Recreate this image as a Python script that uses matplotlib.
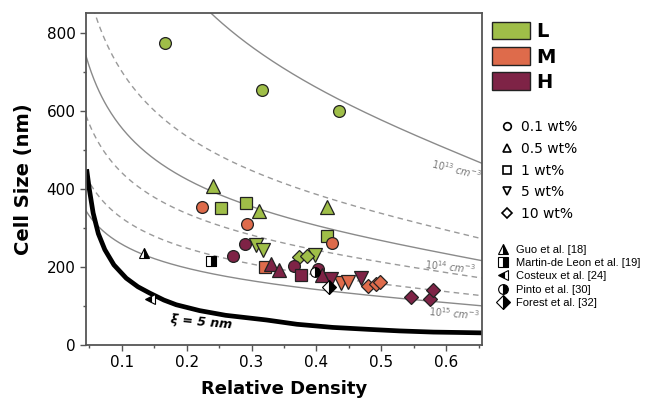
import matplotlib.pyplot as plt
import numpy as np
from matplotlib.lines import Line2D
from matplotlib.patches import Patch

# colours for the three series
col_L = '#9fbe48'
col_M = '#de6b4b'
col_H = '#7e2346'

# ---- data: (relative density, cell size nm) ----
# L series
L_circle_x = [0.166, 0.316, 0.435]
L_circle_y = [772, 654, 600]
L_tri_x = [0.240, 0.312, 0.417]
L_tri_y = [408, 342, 353]
L_sq_x = [0.253, 0.292, 0.417]
L_sq_y = [350, 363, 278]
L_dtri_x = [0.307, 0.318, 0.397]
L_dtri_y = [256, 242, 230]
L_dia_x = [0.373, 0.385]
L_dia_y = [225, 227]

# M series
M_circle_x = [0.224, 0.293, 0.424]
M_circle_y = [352, 310, 261]
M_sq_x = [0.321]
M_sq_y = [200]
M_dtri_x = [0.438, 0.448]
M_dtri_y = [158, 160]
M_dia_x = [0.479, 0.492, 0.498]
M_dia_y = [150, 157, 161]

# H series
H_circle_x = [0.271, 0.290, 0.365, 0.402]
H_circle_y = [227, 259, 201, 194]
H_sq_x = [0.376]
H_sq_y = [180]
H_tri_x = [0.330, 0.343, 0.409]
H_tri_y = [208, 191, 180]
H_dtri_x = [0.423, 0.468]
H_dtri_y = [168, 171]
H_dia_x = [0.546, 0.575, 0.580]
H_dia_y = [122, 117, 141]

# literature points
lit_names = ['Guo et al. [18]', 'Martin-de Leon et al. [19]', 'Costeux et al. [24]',
             'Pinto et al. [30]', 'Forest et al. [32]']
lit_markers = ['^', 's', '<', 'o', 'D']
lit_fill = ['right', 'right', 'left', 'right', 'right']
lit_x = [0.135, 0.237, 0.144, 0.397, 0.420]
lit_y = [235, 214, 117, 188, 148]

# iso cell-density lines (cm^-3)
N_solid = [1e13, 1e14, 1e15]
N_dashed = [5e13, 2e14, 5e14]

# xi = 5 nm line
xi_x = [0.046, 0.050, 0.056, 0.064, 0.074, 0.088, 0.107, 0.125, 0.143, 0.165, 0.184,
        0.22, 0.26, 0.323, 0.37, 0.425, 0.48, 0.528, 0.58, 0.62, 0.655]
xi_y = [450, 400, 338, 285, 244, 205, 171, 149, 133, 115, 103,
        88, 76, 64, 53, 45, 40, 36, 33, 32, 31]


def cell_size(rho, n_cm3):
    # d = (6(1-rho)/(pi N rho))^(1/3), N converted to nm^-3
    n = n_cm3 * 1e-21
    return (6 * (1 - rho) / (np.pi * n * rho)) ** (1 / 3) 


fig = plt.figure(figsize=(6.51, 4.01), dpi=100)
ax = fig.add_axes([0.1321, 0.1397, 0.6083, 0.8279])

rho = np.linspace(0.045, 0.655, 300)
for n in N_solid:
    ax.plot(rho, cell_size(rho, n), color='#8a8a8a', lw=1.0, zorder=1)
for n in N_dashed:
    ax.plot(rho, cell_size(rho, n), color='#9a9a9a', lw=1.0, ls=(0, (4, 3)), zorder=1)
ax.plot(xi_x, xi_y, color='black', lw=3.4, solid_capstyle='butt', zorder=2)

ms = 8.5
def pts(x, y, m, c, s=ms):
    ax.plot(x, y, ls='none', marker=m, ms=s, mfc=c, mec='#222222', mew=0.9, zorder=3)

pts(L_circle_x, L_circle_y, 'o', col_L)
pts(L_tri_x, L_tri_y, '^', col_L, 9.5)
pts(L_sq_x, L_sq_y, 's', col_L)
pts(L_dtri_x, L_dtri_y, 'v', col_L, 9.5)
pts(L_dia_x, L_dia_y, 'D', col_L, 7.5)

pts(M_circle_x, M_circle_y, 'o', col_M)
pts(M_sq_x, M_sq_y, 's', col_M)
pts(M_dtri_x, M_dtri_y, 'v', col_M, 9.5)
pts(M_dia_x, M_dia_y, 'D', col_M, 7.5)

pts(H_circle_x, H_circle_y, 'o', col_H)
pts(H_sq_x, H_sq_y, 's', col_H)
pts(H_tri_x, H_tri_y, '^', col_H, 9.5)
pts(H_dtri_x, H_dtri_y, 'v', col_H, 9.5)
pts(H_dia_x, H_dia_y, 'D', col_H, 7.5)

for i in range(len(lit_x)):
    ax.plot(lit_x[i], lit_y[i], ls='none', marker=lit_markers[i], ms=7, fillstyle=lit_fill[i],
            mfc='black', mfcalt='white', mec='black', mew=0.8, zorder=4)

# curve labels
ax.text(0.615, 450, r'$10^{13}$ cm$^{-3}$', fontsize=7, color='#777777', style='italic',
        rotation=-14, ha='center', va='center')
ax.text(0.606, 200, r'$10^{14}$ cm$^{-3}$', fontsize=7, color='#777777', style='italic',
        rotation=-6, ha='center', va='center')
ax.text(0.612, 80, r'$10^{15}$ cm$^{-3}$', fontsize=7, color='#777777', style='italic',
        rotation=-5, ha='center', va='center')
ax.text(0.222, 58, 'ξ = 5 nm', fontsize=9, fontweight='bold', style='italic',
        rotation=-5, ha='center', va='center')

ax.set_xlim(0.045, 0.655)
ax.set_ylim(0, 850)
ax.set_xticks([0.1, 0.2, 0.3, 0.4, 0.5, 0.6])
ax.set_xticks(np.arange(0.05, 0.66, 0.05), minor=True)
ax.set_yticks([0, 200, 400, 600, 800])
ax.set_yticks([100, 300, 500, 700], minor=True)
ax.tick_params(labelsize=11, length=4, width=1.0, color='#555555')
ax.tick_params(which='minor', length=2.5, width=1.0, color='#555555')
for s in ax.spines.values():
    s.set_color('#555555')
    s.set_linewidth(1.3)
ax.set_xlabel('Relative Density', fontsize=13, fontweight='bold', labelpad=7)
ax.set_ylabel('Cell Size (nm)', fontsize=14, fontweight='bold', labelpad=10)

# legends
h1 = [Patch(facecolor=c, edgecolor='#222222', lw=1.0) for c in (col_L, col_M, col_H)]
leg1 = fig.legend(h1, ['L', 'M', 'H'], loc='upper left', bbox_to_anchor=(0.755, 0.945),
                  frameon=False, handlelength=2.0, handleheight=1.0, handletextpad=0.3,
                  labelspacing=0.3, borderaxespad=0, borderpad=0,
                  prop={'weight': 'bold', 'size': 14})

h2 = [Line2D([], [], ls='none', marker=m, ms=5.5, mfc='white', mec='black', mew=1.2)
      for m in ('o', '^', 's', 'v', 'D')]
fig.legend(h2, ['0.1 wt%', '0.5 wt%', '1 wt%', '5 wt%', '10 wt%'], loc='upper left',
           bbox_to_anchor=(0.770, 0.700), frameon=False, handlelength=0.8,
           handletextpad=0.6, labelspacing=0.55, borderaxespad=0, borderpad=0, fontsize=10)

h3 = [Line2D([], [], ls='none', marker=m, ms=7, fillstyle=f, mfc='black', mfcalt='white',
             mec='black', mew=0.8) for m, f in zip(lit_markers, lit_fill)]
fig.legend(h3, lit_names, loc='upper left', bbox_to_anchor=(0.762, 0.390), frameon=False,
           handlelength=1.2, handletextpad=0.6, labelspacing=0.3, borderaxespad=0,
           borderpad=0, prop={'family': 'Liberation Sans', 'size': 8})

fig.savefig('out.png', dpi=100)
